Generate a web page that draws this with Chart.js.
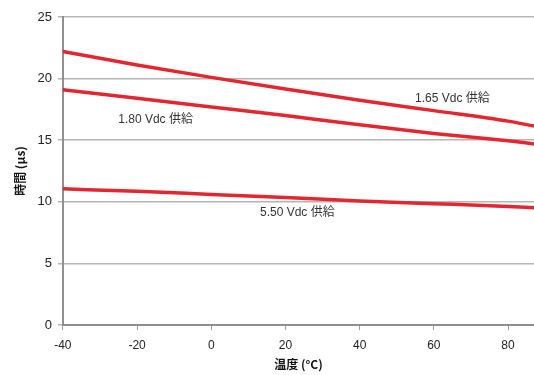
<!DOCTYPE html>
<html><head><meta charset="utf-8">
<script src="https://cdn.jsdelivr.net/npm/chart.js@4/dist/chart.umd.min.js"></script>
<style>html,body{margin:0;padding:0;background:#fff}#wrap{width:534px;height:375px}</style>
</head><body><div id="wrap"><canvas id="c" width="534" height="375"></canvas></div>
<script>
const temps = [-40, -20, 0, 20, 40, 60, 80, 87];
const v165 = [22.2, 21.1, 20.1, 19.15, 18.25, 17.4, 16.55, 16.15];
const v180 = [19.1, 18.4, 17.7, 17.0, 16.25, 15.55, 14.95, 14.7];
const v550 = [11.05, 10.85, 10.6, 10.35, 10.07, 9.85, 9.62, 9.52];
const xTicks = [-40, -20, 0, 20, 40, 60, 80];
const yTicks = [0, 5, 10, 15, 20, 25];
const labelTexts = ['1.65 Vdc 供給', '1.80 Vdc 供給', '5.50 Vdc 供給'];
const labelX = [65, -15, 23.2];
const labelY = [18.35, 16.7, 9.1];

const mk = (arr) => temps.map((t, i) => ({x: t, y: arr[i]}));
const red = '#e3262f';
const ds = (d) => ({data: mk(d), borderColor: red, borderWidth: 3.5, pointRadius: 0, cubicInterpolationMode: 'monotone', fill: false});

const labelPlugin = {
  id: 'lbls',
  afterDatasetsDraw(chart) {
    const {ctx, scales: {x, y}} = chart;
    ctx.save();
    ctx.font = '12px "Liberation Sans", "Noto Sans CJK JP", sans-serif';
    ctx.fillStyle = '#333';
    ctx.textAlign = 'center';
    ctx.textBaseline = 'middle';
    labelTexts.forEach((t, i) => ctx.fillText(t, x.getPixelForValue(labelX[i]), y.getPixelForValue(labelY[i])));
    ctx.restore();
  }
};

new Chart(document.getElementById('c'), {
  type: 'line',
  data: {datasets: [ds(v165), ds(v180), ds(v550)]},
  options: {
    responsive: false, animation: false,
    layout: {padding: {left: 13, right: 0, top: 17, bottom: 0}},
    plugins: {legend: {display: false}, tooltip: {enabled: false}},
    scales: {
      x: {
        type: 'linear', min: -40, max: 87,
        afterBuildTicks: (s) => { s.ticks = xTicks.map(v => ({value: v})); },
        afterFit: (s) => { s.height = 50; },
        ticks: {color: '#222', font: {family: '"Liberation Sans", Arial, sans-serif', size: 12}, padding: 8, maxRotation: 0},
        grid: {drawOnChartArea: false, drawTicks: true, tickLength: 5, color: '#9a9a9a'},
        border: {color: '#8f8f8f', width: 2},
        title: {display: true, text: '温度 (°C)', color: '#111', font: {family: '"Noto Sans CJK JP", sans-serif', size: 12, weight: 'bold'}, padding: {top: 0, bottom: 3}}
      },
      y: {
        min: 0, max: 25,
        afterBuildTicks: (s) => { s.ticks = yTicks.map(v => ({value: v})); },
        ticks: {color: '#222', font: {family: '"Liberation Sans", Arial, sans-serif', size: 13}, padding: 6},
        grid: {color: '#b5b5b5', lineWidth: 1.5, tickLength: 5},
        border: {color: '#8f8f8f', width: 2},
        title: {display: true, text: '時間 (µs)', color: '#111', font: {family: '"Noto Sans CJK JP", sans-serif', size: 12, weight: 'bold'}, padding: {top: 0, bottom: 4}}
      }
    }
  },
  plugins: [labelPlugin]
});
</script></body></html>
